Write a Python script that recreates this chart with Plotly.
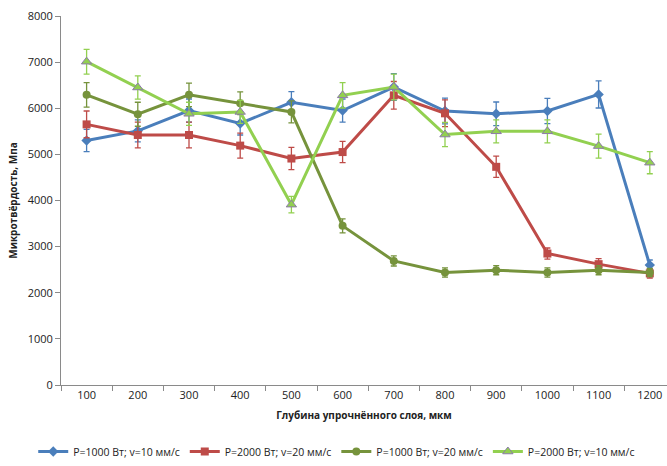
import plotly.graph_objects as go

depth = ["100", "200", "300", "400", "500", "600", "700", "800", "900", "1000", "1100", "1200"]

hv_p1000_v10 = [5300, 5510, 5950, 5670, 6130, 5950, 6460, 5940, 5880, 5940, 6300, 2600]
err_p1000_v10 = [240, 240, 250, 250, 230, 250, 290, 280, 255, 275, 295, 110]

hv_p2000_v20 = [5650, 5420, 5420, 5190, 4910, 5050, 6280, 5890, 4730, 2850, 2620, 2420]
err_p2000_v20 = [290, 280, 280, 270, 240, 230, 300, 290, 230, 120, 120, 100]

hv_p1000_v20 = [6290, 5870, 6290, 6110, 5920, 3450, 2690, 2440, 2490, 2440, 2490, 2440]
err_p1000_v20 = [266, 260, 253, 245, 238, 150, 110, 100, 100, 100, 100, 90]

hv_p2000_v10 = [7010, 6450, 5880, 5920, 3910, 6280, 6460, 5430, 5500, 5500, 5180, 4820]
err_p2000_v10 = [268, 253, 250, 250, 180, 275, 280, 262, 250, 250, 260, 240]

names = [
    "P=1000 Вт; v=10 мм/с",
    "P=2000 Вт; v=20 мм/с",
    "P=1000 Вт; v=20 мм/с",
    "P=2000 Вт; v=10 мм/с",
]

FONT = "Open Sans"

series = [
    (hv_p1000_v10, err_p1000_v10, names[0], "#4A7EBB", dict(symbol="diamond", size=8, color="#4A7EBB")),
    (hv_p2000_v20, err_p2000_v20, names[1], "#BE4B48", dict(symbol="square", size=8, color="#BE4B48")),
    (hv_p1000_v20, err_p1000_v20, names[2], "#76933C", dict(symbol="circle", size=8, color="#76933C")),
    (hv_p2000_v10, err_p2000_v10, names[3], "#92D050",
     dict(symbol="triangle-up", size=9, color="#92D050", line=dict(color="#8C7BA8", width=1))),
]

fig = go.Figure()
for vals, errs, name, color, marker in series:
    fig.add_trace(go.Scatter(
        x=depth, y=vals, name=name, mode="lines+markers",
        line=dict(color=color, width=3),
        marker=marker,
        error_y=dict(type="data", array=errs, visible=True, color=color, thickness=1.3, width=3),
    ))

fig.update_layout(
    width=667, height=466,
    margin=dict(l=61, r=0, t=16, b=80),
    paper_bgcolor="white", plot_bgcolor="white",
    font=dict(family=FONT, size=11, color="#222222"),
    showlegend=True,
    legend=dict(
        orientation="h", x=0.455, xanchor="center", y=-0.181, yanchor="middle",
        font=dict(family=FONT, size=10.5, color="#222222"),
        itemwidth=30, tracegroupgap=0,
    ),
    xaxis=dict(
        type="category", range=[-0.5, 11.336],
        showline=True, linecolor="#8A8A8A", linewidth=1,
        ticks="outside", tickson="boundaries", ticklen=5, tickcolor="#8A8A8A",
        showgrid=False, zeroline=False,
        tickfont=dict(family=FONT, size=11),
        title=dict(text="<b>Глубина упрочнённого слоя, мкм</b>",
                   font=dict(family=FONT, size=10), standoff=10),
    ),
    yaxis=dict(
        range=[0, 8000], dtick=1000,
        showline=True, linecolor="#8A8A8A", linewidth=1,
        ticks="outside", ticklen=5, tickcolor="#8A8A8A",
        showgrid=False, zeroline=False,
        tickfont=dict(family=FONT, size=11),
        title=dict(text="<b>Микротвёрдость, Мпа</b>",
                   font=dict(family=FONT, size=10), standoff=8),
    ),
)

fig.write_html("out.html")
